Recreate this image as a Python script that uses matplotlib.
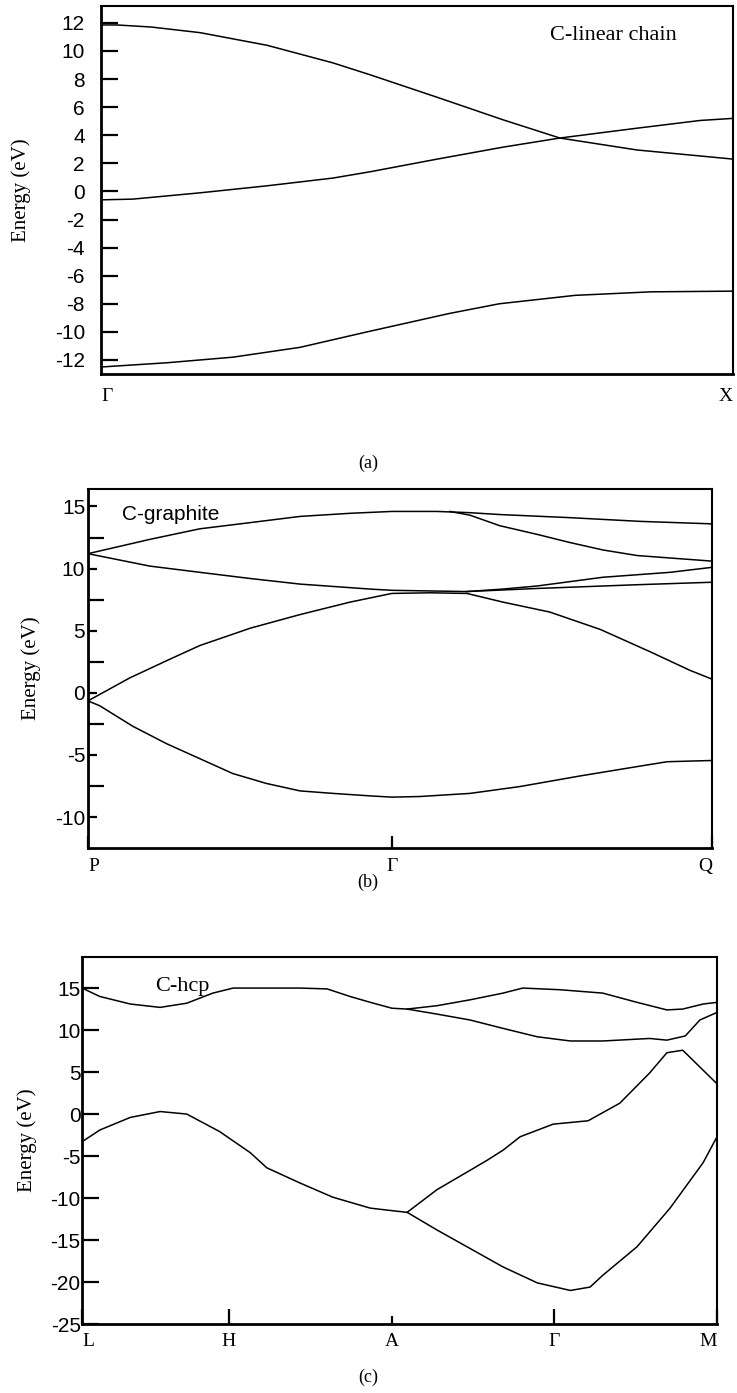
import numpy as np
import matplotlib.pyplot as plt

plt.rcParams["axes.unicode_minus"] = False

# ---- data: k is fraction of the path, E in eV ----
# (a) C-linear chain, Gamma -> X
a_k1 = [0, 0.025, 0.08, 0.157, 0.263, 0.367, 0.426, 0.532, 0.636, 0.726, 0.848, 1.0]
a_e1 = [11.85, 11.85, 11.7, 11.3, 10.4, 9.15, 8.3, 6.7, 5.1, 3.8, 2.95, 2.3]
a_k2 = [0, 0.05, 0.157, 0.263, 0.367, 0.426, 0.532, 0.636, 0.726, 0.848, 0.948, 1.0]
a_e2 = [-0.6, -0.55, -0.1, 0.4, 0.95, 1.4, 2.3, 3.15, 3.8, 4.5, 5.05, 5.2]
a_k3 = [0, 0.104, 0.209, 0.315, 0.421, 0.55, 0.63, 0.75, 0.87, 1.0]
a_e3 = [-12.5, -12.2, -11.8, -11.1, -10.0, -8.7, -8.0, -7.4, -7.15, -7.1]
a_ticks = [0, 1]
a_labels = ["Γ", "X"]

# (b) C-graphite, P -> Gamma -> Q
b_k1 = [0, 0.099, 0.179, 0.260, 0.340, 0.420, 0.487, 0.559, 0.612, 0.660, 0.772, 0.885, 1.0]
b_e1 = [11.2, 12.35, 13.2, 13.7, 14.2, 14.45, 14.6, 14.6, 14.5, 14.35, 14.1, 13.8, 13.6]
b_k2 = [0.580, 0.612, 0.660, 0.720, 0.772, 0.825, 0.880, 1.0]
b_e2 = [14.6, 14.3, 13.45, 12.75, 12.1, 11.5, 11.05, 10.6]
b_k3 = [0, 0.099, 0.179, 0.260, 0.340, 0.452, 0.487, 0.607, 0.665, 0.720, 0.825, 0.933, 1.0]
b_e3 = [11.2, 10.2, 9.7, 9.2, 8.75, 8.35, 8.25, 8.15, 8.35, 8.6, 9.3, 9.7, 10.1]
b_k4 = [0.607, 0.720, 0.880, 1.0]
b_e4 = [8.15, 8.4, 8.7, 8.9]
b_k5 = [0, 0.067, 0.131, 0.179, 0.260, 0.340, 0.420, 0.487, 0.548, 0.607, 0.665, 0.740, 0.821, 0.901, 0.965, 1.0]
b_e5 = [-0.65, 1.2, 2.7, 3.8, 5.2, 6.3, 7.3, 8.0, 8.05, 8.0, 7.3, 6.5, 5.1, 3.3, 1.8, 1.1]
b_k6 = [0, 0.019, 0.072, 0.126, 0.179, 0.232, 0.286, 0.340, 0.393, 0.452, 0.487, 0.532, 0.612, 0.692, 0.788, 0.885, 0.928, 1.0]
b_e6 = [-0.65, -1.05, -2.7, -4.1, -5.3, -6.5, -7.3, -7.9, -8.1, -8.3, -8.4, -8.35, -8.1, -7.55, -6.7, -5.9, -5.55, -5.45]
b_ticks = [0, 0.487, 1]
b_labels = ["P", "Γ", "Q"]

# (c) C-hcp, L -> H -> A -> Gamma -> M
c_k1 = [0, 0.028, 0.076, 0.123, 0.165, 0.206, 0.238, 0.343, 0.386, 0.422, 0.454, 0.488, 0.512,
        0.559, 0.611, 0.663, 0.694, 0.753, 0.820, 0.874, 0.921, 0.946, 0.978, 1.0]
c_e1 = [15.0, 14.0, 13.1, 12.7, 13.2, 14.4, 15.0, 15.0, 14.9, 14.0, 13.3, 12.6, 12.5,
        12.9, 13.6, 14.4, 15.0, 14.8, 14.4, 13.3, 12.4, 12.5, 13.1, 13.3]
c_k2 = [0.512, 0.559, 0.611, 0.663, 0.717, 0.769, 0.820, 0.894, 0.921, 0.950, 0.973, 1.0]
c_e2 = [12.5, 11.9, 11.2, 10.2, 9.2, 8.7, 8.7, 9.0, 8.8, 9.3, 11.2, 12.1]
c_k3 = [0, 0.028, 0.076, 0.123, 0.165, 0.217, 0.265, 0.291, 0.343, 0.395, 0.454, 0.488, 0.512,
        0.559, 0.611, 0.638, 0.663, 0.690, 0.742, 0.797, 0.847, 0.894, 0.921, 0.946, 1.0]
c_e3 = [-3.3, -1.9, -0.4, 0.3, 0.0, -2.1, -4.6, -6.4, -8.2, -9.9, -11.2, -11.5, -11.7,
        -9.0, -6.7, -5.5, -4.3, -2.7, -1.2, -0.8, 1.3, 4.9, 7.3, 7.6, 3.6]
c_k4 = [0.512, 0.559, 0.611, 0.663, 0.717, 0.769, 0.800, 0.820, 0.874, 0.926, 0.978, 1.0]
c_e4 = [-11.7, -13.8, -16.0, -18.2, -20.1, -21.0, -20.6, -19.2, -15.8, -11.2, -5.8, -2.7]
c_ticks = [0, 0.231, 0.743, 1]
c_labels = ["L", "H", "Γ", "M"]
c_minor = [0.488]
c_minor_labels = ["A"]

sans = ["Liberation Sans", "DejaVu Sans"]
serif = ["Liberation Serif", "DejaVu Serif"]

fig = plt.figure(figsize=(7.37, 13.93), dpi=100)


def style_axes(ax, ypad, ylen):
    ax.spines["left"].set_linewidth(2.0)
    ax.spines["bottom"].set_linewidth(2.0)
    ax.spines["top"].set_linewidth(1.5)
    ax.spines["right"].set_linewidth(1.5)
    ax.tick_params(axis="y", direction="in", length=ylen, width=1.6, pad=ypad,
                   labelsize=15, right=False)
    for t in ax.get_yticklabels():
        t.set_family(sans)


def set_path_labels(ax, ticks, labels, pad, length):
    ax.set_xticks(ticks, labels)
    ax.set_xlim(0, 1)
    ax.tick_params(axis="x", direction="in", length=length, width=1.6, pad=pad, labelsize=14)
    tl = ax.get_xticklabels()
    for t in tl:
        t.set_family(serif)
    tl[0].set_ha("left")
    tl[-1].set_ha("right")


# (a)
ax1 = fig.add_axes([0.137, 0.7315, 0.8576, 0.2642])
for k, e in [(a_k1, a_e1), (a_k2, a_e2), (a_k3, a_e3)]:
    ax1.plot(k, e, color="black", lw=1.1)
ax1.set_ylim(-13.0, 13.2)
ax1.set_yticks(np.arange(-12, 13, 2))
style_axes(ax1, 11.5, 12)
set_path_labels(ax1, a_ticks, a_labels, 10, 0)
ax1.set_ylabel("Energy (eV)", family=serif, fontsize=15, labelpad=17)
ax1.text(0.81, 0.92, "C-linear chain", transform=ax1.transAxes, family=serif,
         fontsize=16, ha="center", va="center")

# (b)
ax2 = fig.add_axes([0.1194, 0.3912, 0.8467, 0.2577])
for k, e in [(b_k1, b_e1), (b_k2, b_e2), (b_k3, b_e3), (b_k4, b_e4), (b_k5, b_e5), (b_k6, b_e6)]:
    ax2.plot(k, e, color="black", lw=1.1)
ax2.set_ylim(-12.5, 16.4)
ax2.set_yticks([-10, -5, 0, 5, 10, 15])
ax2.set_yticks([-7.5, -2.5, 2.5, 7.5, 12.5], minor=True)
style_axes(ax2, 2, 6.5)
ax2.tick_params(axis="y", which="minor", direction="in", length=11.5, width=1.6, right=False)
set_path_labels(ax2, b_ticks, b_labels, 7, 8.5)
ax2.set_ylabel("Energy (eV)", family=serif, fontsize=15, labelpad=10)
ax2.text(0.055, 0.93, "C-graphite", transform=ax2.transAxes, family=sans,
         fontsize=15, ha="left", va="center")

# (c)
ax3 = fig.add_axes([0.1113, 0.0495, 0.8616, 0.2635])
for k, e in [(c_k1, c_e1), (c_k2, c_e2), (c_k3, c_e3), (c_k4, c_e4)]:
    ax3.plot(k, e, color="black", lw=1.1)
ax3.set_ylim(-25, 18.7)
ax3.set_yticks(np.arange(-25, 16, 5))
style_axes(ax3, 1, 12)
set_path_labels(ax3, c_ticks, c_labels, 6.5, 11)
ax3.set_xticks(c_minor, c_minor_labels, minor=True)
ax3.tick_params(axis="x", which="minor", direction="in", length=6, width=1.6, pad=6.5,
                labelsize=14)
for t in ax3.get_xticklabels(minor=True):
    t.set_family(serif)
ax3.set_ylabel("Energy (eV)", family=serif, fontsize=15, labelpad=10)
ax3.text(0.115, 0.92, "C-hcp", transform=ax3.transAxes, family=serif,
         fontsize=16, ha="left", va="center")

fig.text(368 / 737, 1 - 463 / 1393, "(a)", family=serif, fontsize=13, ha="center", va="center")
fig.text(368 / 737, 1 - 882 / 1393, "(b)", family=serif, fontsize=13, ha="center", va="center")
fig.text(368 / 737, 1 - 1377 / 1393, "(c)", family=serif, fontsize=13, ha="center", va="center")

fig.savefig("out.png", dpi=100)
